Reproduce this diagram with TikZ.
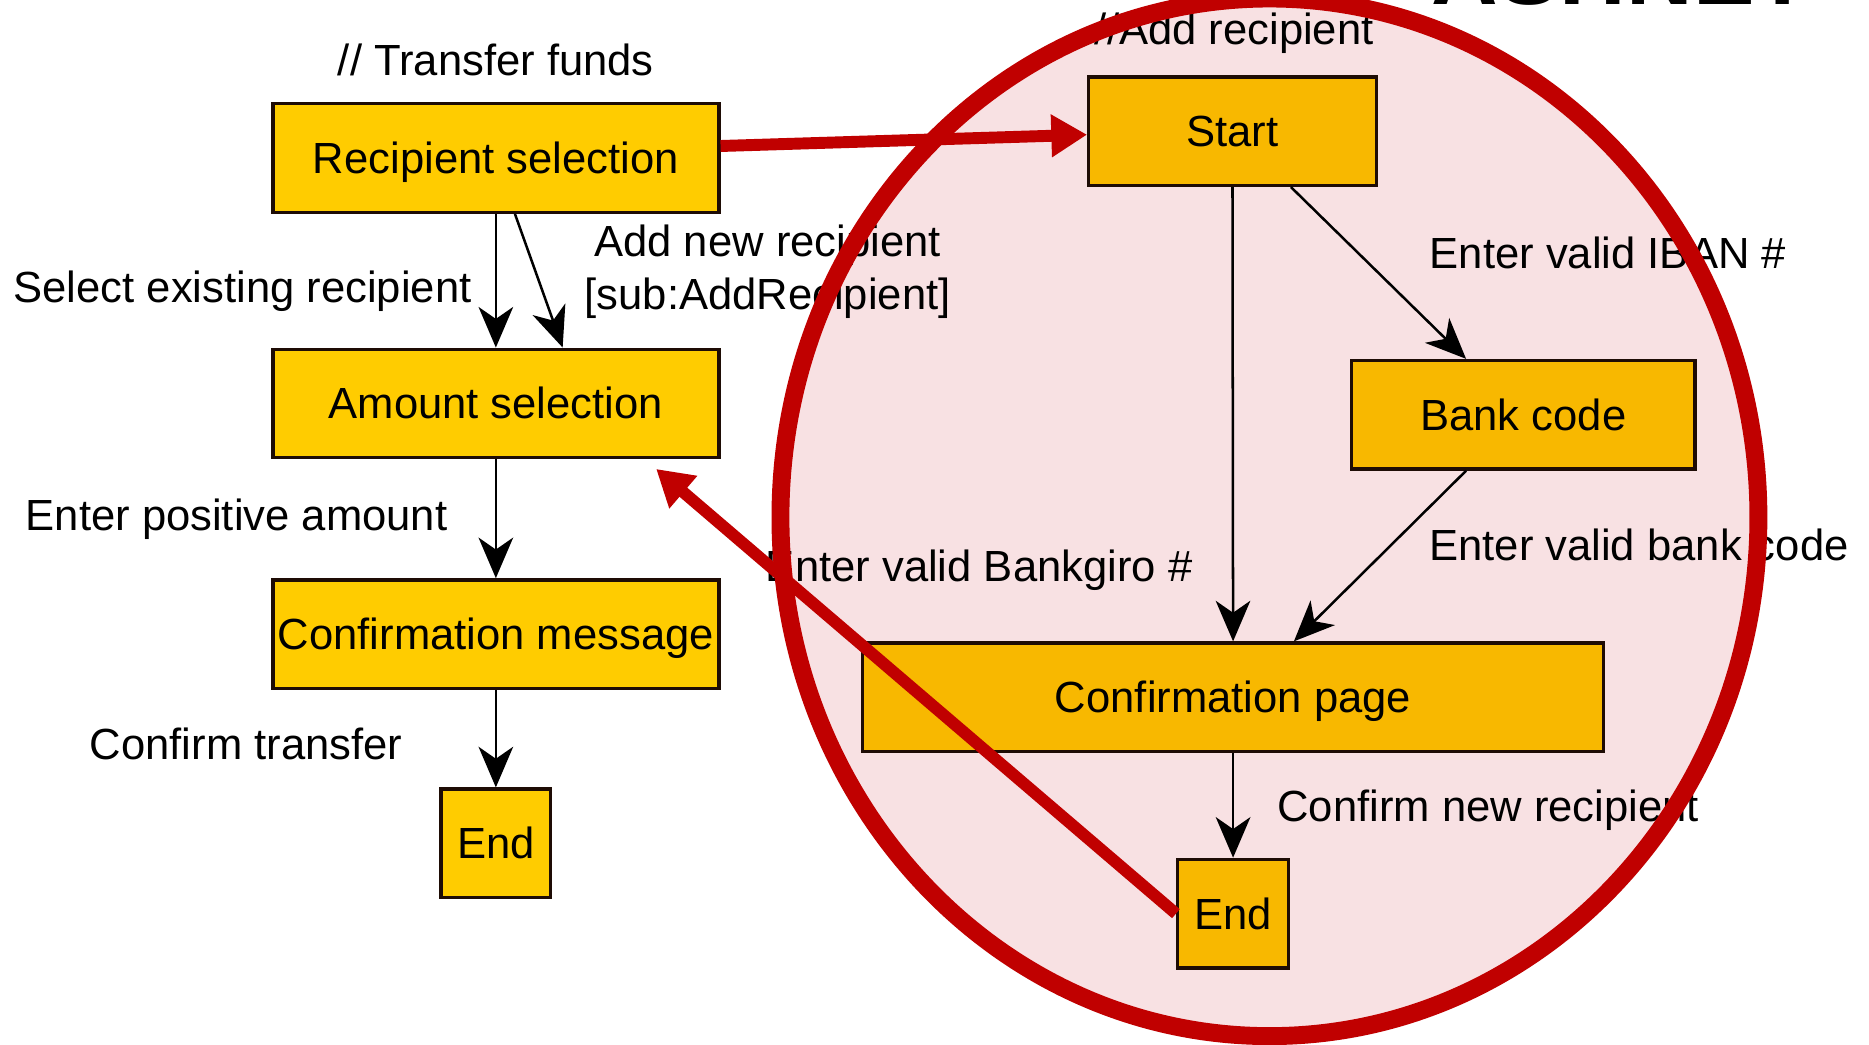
\documentclass[tikz,border=0pt]{standalone}
\usepackage{fontspec}
\setmainfont{Liberation Sans}
\usetikzlibrary{arrows.meta}

\definecolor{boxyellow}{RGB}{255,204,0}
\definecolor{boxorange}{RGB}{248,184,0}
\definecolor{ringred}{RGB}{192,0,0}
\definecolor{ringfill}{RGB}{248,225,227}
\definecolor{edgedark}{RGB}{30,12,5}

\begin{document}
\begin{tikzpicture}[x=0.01cm,y=-0.01cm,
  every node/.style={font=\fontsize{10.4pt}{12.6pt}\selectfont, inner sep=0pt},
  stdbox/.style={draw=edgedark, line width=0.8pt, text height=0.26cm, text depth=0pt, minimum height=0.91cm},
  leftbox/.style={stdbox, fill=boxyellow},
  rightbox/.style={stdbox, fill=boxorange},
  lbl/.style={text height=0.26cm, text depth=0pt},
  flow/.style={draw=black, line width=0.6pt, -{Stealth[length=0.34cm,width=0.29cm,inset=0.1cm]}},
  jump/.style={draw=ringred, line width=0.1cm, -{Triangle[length=0.3cm,width=0.34cm]}}
]
\clip (0,0) rectangle (1568,876);
\fill[white] (0,0) rectangle (1568,876);

% highlighted sub-process area
\fill[ringfill] (1065,434) ellipse [x radius=4.1cm, y radius=4.35cm];

% slide title, mostly above the page
\node[font=\bfseries\fontsize{22pt}{22pt}\selectfont, anchor=base east] (brand) at (1520,4) {ASHNET};

% main flow: transfer funds
\node (ttl1) at (416,50) [lbl] {// Transfer funds};
\node (rs) at (416,132.5) [leftbox, minimum width=3.74cm] {Recipient selection};
\node (as) at (416,338.5) [leftbox, minimum width=3.74cm] {Amount selection};
\node (cm) at (416,532) [leftbox, minimum width=3.74cm] {Confirmation message};
\node (e1) at (416,707.5) [leftbox, minimum width=0.92cm] {End};

\node (lsel) at (203.5,241) [lbl] {Select existing recipient};
\node (ladd) at (644,228) [align=center] {Add new recipient\\{}[sub:AddRecipient]};
\node (lamt) at (198.5,432) [lbl] {Enter positive amount};
\node (lcnf) at (206.5,624) [lbl] {Confirm transfer};

\draw[flow] (rs.south) -- (as.north);
\draw[flow] ([xshift=0.16cm]rs.south) -- ([xshift=0.56cm]as.north);
\draw[flow] (as.south) -- (cm.north);
\draw[flow] (cm.south) -- (e1.north);

% sub flow: add recipient
\node (ttl2) at (1035.5,24) [lbl] {//Add recipient};
\node (st) at (1034,110) [rightbox, minimum width=2.41cm] {Start};
\node (bc) at (1278,348) [rightbox, minimum width=2.88cm] {Bank code};
\node (cp) at (1034.5,585) [rightbox, minimum width=6.21cm] {Confirmation page};
\node (e2) at (1034.5,766.5) [rightbox, minimum width=0.93cm] {End};

\node (liban) at (1349,212) [lbl] {Enter valid IBAN \#};
\node (lbcode) at (1375,457) [lbl] {Enter valid bank code};
\node (lbg) at (821.5,475) [lbl] {Enter valid Bankgiro \#};
\node (lcnr) at (1248.5,676) [lbl] {Confirm new recipient};

\draw[flow] (st.south) -- (cp.north);
\draw[flow] ([xshift=0.49cm]st.south) -- ([xshift=-0.48cm]bc.north);
\draw[flow] ([xshift=-0.48cm]bc.south) -- ([xshift=0.51cm]cp.north);
\draw[flow] (cp.south) -- (e2.north);

% ring around the sub flow
\draw[ringred, line width=0.15cm] (1065,434) ellipse [x radius=4.1cm, y radius=4.35cm];

% links between the two flows
\draw[jump] ([yshift=0.1cm]rs.east) -- ([yshift=-0.03cm]st.west);
\draw[jump] (e2.west) -- ([xshift=-0.54cm,yshift=-0.08cm]as.south east);
\end{tikzpicture}
\end{document}
